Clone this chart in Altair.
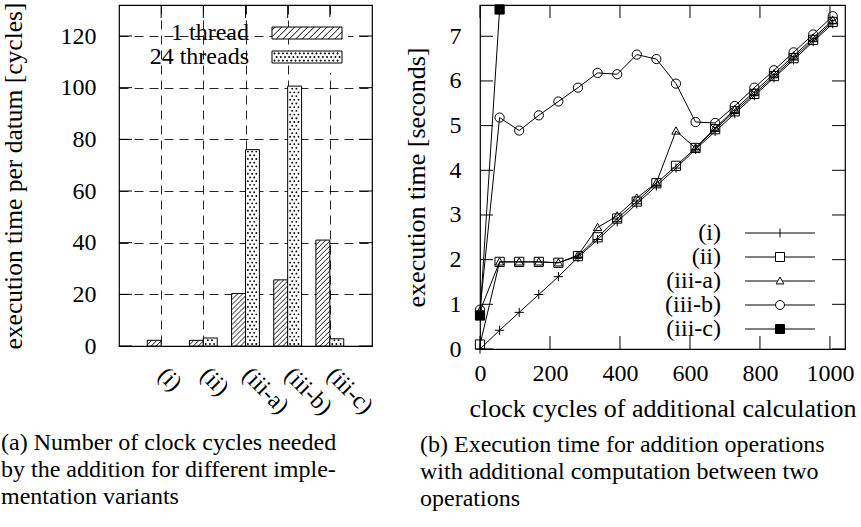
import altair as alt
import pandas as pd

# ---------------- data: panel (a) ----------------
categories = ["(i)", "(ii)", "(iii-a)", "(iii-b)", "(iii-c)"]
positions = [1, 2, 3, 4, 5]
one_thread = [2.2, 2.2, 20.3, 25.6, 41.0]
threads_24 = [0.0, 3.1, 76.0, 100.6, 2.8]
bar_series = ["1 thread", "24 threads"]
left_y_ticks = [0, 20, 40, 60, 80, 100, 120]

# ---------------- data: panel (b) ----------------
cycles = [0, 56, 112, 168, 224, 280, 336, 392, 448, 504, 560, 616, 672, 728, 784, 840, 896, 952, 1008]
time_i = [0.0, 0.42, 0.82, 1.22, 1.62, 2.05, 2.45, 2.85, 3.25, 3.65, 4.05, 4.47, 4.87, 5.27, 5.67, 6.07, 6.47, 6.88, 7.28]
time_ii = [0.1, 1.95, 1.95, 1.95, 1.93, 2.08, 2.5, 2.92, 3.3, 3.71, 4.1, 4.5, 4.92, 5.32, 5.71, 6.11, 6.51, 6.92, 7.32]
time_iii_a = [0.85, 1.95, 1.95, 1.95, 1.93, 2.1, 2.72, 2.98, 3.38, 3.72, 4.88, 4.5, 4.95, 5.36, 5.76, 6.16, 6.56, 6.96, 7.36]
time_iii_b = [0.88, 5.18, 4.89, 5.23, 5.54, 5.85, 6.18, 6.15, 6.59, 6.49, 5.94, 5.08, 5.06, 5.44, 5.85, 6.24, 6.64, 7.04, 7.45]
cycles_iii_c = [0, 56]
time_iii_c = [0.75, 7.6]
line_series = ["(i)", "(ii)", "(iii-a)", "(iii-b)", "(iii-c)"]
right_x_ticks = [0, 200, 400, 600, 800, 1000]
right_y_ticks = [0, 1, 2, 3, 4, 5, 6, 7]

caption_a = ["(a) Number of clock cycles needed",
             "by the addition for different imple-",
             "mentation variants"]
caption_b = ["(b) Execution time for addition operations",
             "with additional computation between two",
             "operations"]

# ---------------- style / layout ----------------
FONT = "Liberation Serif"
W1, H1 = 253, 341
W2, H2 = 365, 344
X1 = [0, 6]
Y1 = [0, 132]
X2 = [0, 1043]
Y2 = [0, 7.7]
TICK = 13
BW = 0.33
px_x1 = W1 / (X1[1] - X1[0])
px_y1 = H1 / (Y1[1] - Y1[0])
K = BW * px_x1 / px_y1          # 45 degree hatch rise across a bar
HSTEP = 5.0 / px_y1            # hatch spacing
DY = 3.7 / px_y1               # dot row spacing


def f(v):
    return f"{v:.4f}".rstrip("0").rstrip(".") if abs(v) > 1e-9 else "0"


# legend swatch paths: symbolSize 484 -> 11 px per path unit
SYM = 484
U = 11.0
HW = 35 / U     # half width of swatch (70 px)
hh = 6 / U      # half height of bar swatch (12 px)


def hatch_path():
    parts = [f"M{f(-HW)},{f(-hh)}H{f(HW)}V{f(hh)}H{f(-HW)}Z"]
    step = 6.5 / U
    run = 2 * hh
    x0 = -HW - run + step / 2
    while x0 < HW:
        xa, ya = x0, hh
        xb, yb = x0 + run, -hh
        if xa < -HW:
            ya = hh - (-HW - xa)
            xa = -HW
        if xb > HW:
            yb = -hh + (xb - HW)
            xb = HW
        if xb - xa > 1e-3:
            parts.append(f"M{f(xa)},{f(ya)}L{f(xb)},{f(yb)}")
        x0 += step
    return "".join(parts)


def dots_path():
    parts = [f"M{f(-HW)},{f(-hh)}H{f(HW)}V{f(hh)}H{f(-HW)}Z"]
    d = 0.5 / U
    for ri, ry in enumerate([-3.6, 0.0, 3.6]):
        cx = -32.5 + (ri % 2) * 2.1
        while cx < 33:
            x, y = cx / U, ry / U
            parts.append(f"M{f(x - d)},{f(y - d)}h{f(2 * d)}v{f(2 * d)}h{f(-2 * d)}Z")
            cx += 4.2
    return "".join(parts)


left_shape_expr = f"datum.value === '{bar_series[0]}' ? '{hatch_path()}' : '{dots_path()}'"

m = 4.5 / U
mt = 3.9 / U
L = HW
leg_paths = {
    "(i)": f"M{f(-L)},0H{f(L)}M0,{f(-m)}V{f(m)}",
    "(ii)": f"M{f(-L)},0H{f(-m)}M{f(m)},0H{f(L)}M{f(-m)},{f(-m)}H{f(m)}V{f(m)}H{f(-m)}Z",
    "(iii-a)": f"M{f(-L)},0H{f(-0.57 * mt)}M{f(0.57 * mt)},0H{f(L)}M0,{f(-mt)}L{f(mt)},{f(0.75 * mt)}L{f(-mt)},{f(0.75 * mt)}Z",
    "(iii-b)": f"M{f(-L)},0H{f(-m)}M{f(m)},0H{f(L)}M{f(m)},0A{f(m)},{f(m)} 0 1,1 {f(-m)},0A{f(m)},{f(m)} 0 1,1 {f(m)},0Z",
    "(iii-c)": f"M{f(-L)},0H{f(L)}M{f(-m)},{f(-m)}H{f(m)}V{f(m)}H{f(-m)}Z",
}
right_shape_expr = ""
for s in line_series[:-1]:
    right_shape_expr += f"datum.value === '{s}' ? '{leg_paths[s]}' : "
right_shape_expr += f"'{leg_paths[line_series[-1]]}'"

open_marker_paths = [
    "M-1,0H1M0,-1V1",
    "M-1,-1H1V1H-1Z",
    "M0,-0.9L0.9,0.68L-0.9,0.68Z",
    "M1,0A1,1 0 1,1 -1,0A1,1 0 1,1 1,0Z",
]
filled_marker_path = "M-1,-1H1V1H-1Z"
legend_fill = ["white", "white", "white", "white", "black"]

# ---------------- tables ----------------
bars = pd.DataFrame({
    "category": categories * 2,
    "pos": positions * 2,
    "threads": [bar_series[0]] * 5 + [bar_series[1]] * 5,
    "value": one_thread + threads_24,
})
lt_y = pd.DataFrame({"t": left_y_ticks})
lt_x = pd.DataFrame({"p": positions})

lines = pd.DataFrame({
    "variant": ["(i)"] * len(cycles) + ["(ii)"] * len(cycles) + ["(iii-a)"] * len(cycles)
    + ["(iii-b)"] * len(cycles) + ["(iii-c)"] * len(cycles_iii_c),
    "x": cycles * 4 + cycles_iii_c,
    "y": time_i + time_ii + time_iii_a + time_iii_b + time_iii_c,
})
rt_x = pd.DataFrame({"t": right_x_ticks})
rt_y = pd.DataFrame({"t": right_y_ticks})

# ---------------- panel (a) ----------------
xs1 = alt.Scale(domain=X1, nice=False, zero=False)
ys1 = alt.Scale(domain=Y1, nice=False, zero=False)
label_expr = "[" + ",".join(f"'{c}'" for c in categories) + "][datum.value - 1]"

ax_x1 = alt.Axis(
    values=positions, labelExpr=label_expr, labelAngle=45, labelAlign="left",
    labelBaseline="middle", labelPadding=25, grid=True, gridDash=[9, 6],
    gridColor="black", gridOpacity=0.85, ticks=False, domain=False, title=None,
    labelFlush=False, labelOverlap=False)
ax_y1 = alt.Axis(
    values=left_y_ticks, grid=True, gridDash=[9, 6], gridColor="black",
    gridOpacity=0.85, ticks=False, domain=False, labelPadding=23,
    title="execution time per datum [cycles]", titlePadding=34, titleFontSize=25.5)

base_a = alt.Chart(bars).transform_calculate(
    x0=f"datum.threads === '{bar_series[0]}' ? datum.pos - {BW} : datum.pos",
    x1=f"datum.threads === '{bar_series[0]}' ? datum.pos : datum.pos + {BW}",
    zero="0",
)

bar_layer = base_a.transform_filter("datum.value > 0").mark_rect(
    stroke="black", strokeWidth=1
).encode(
    x=alt.X("x0:Q", scale=xs1, axis=ax_x1),
    x2="x1:Q",
    y=alt.Y("value:Q", scale=ys1, axis=ax_y1),
    y2="zero:Q",
    fill=alt.Fill("threads:N", scale=alt.Scale(domain=bar_series, range=["white", "white"]),
                  legend=alt.Legend(
                      orient="none", legendX=172, legendY=12, title=None,
                      labelFontSize=24, labelAlign="right", labelOffset={"expr": "-70"},
                      symbolSize=SYM, symbolStrokeColor="black", symbolStrokeWidth=1,
                      symbolType={"expr": left_shape_expr},
                      rowPadding=0, fillColor="white", padding=4)),
)

hatch_layer = base_a.transform_filter(
    f"datum.threads === '{bar_series[0]}' && datum.value > 0"
).transform_calculate(
    s=f"sequence({-K}, datum.value, {HSTEP})"
).transform_flatten(["s"]).transform_calculate(
    ya="max(datum.s, 0)",
    yb=f"min(datum.s + {K}, datum.value)",
).transform_filter("datum.yb > datum.ya + 0.02").transform_calculate(
    xa=f"datum.x0 + (datum.ya - datum.s) / {K} * {BW}",
    xb=f"datum.x0 + (datum.yb - datum.s) / {K} * {BW}",
).mark_rule(color="black", strokeWidth=0.9).encode(
    x=alt.X("xa:Q", scale=xs1, axis=ax_x1),
    x2="xb:Q",
    y=alt.Y("ya:Q", scale=ys1, axis=ax_y1),
    y2="yb:Q",
)

dot_layer = base_a.transform_filter(
    f"datum.threads === '{bar_series[1]}' && datum.value > 0"
).transform_calculate(
    r=f"sequence(0, ceil(datum.value / {DY}))"
).transform_flatten(["r"]).transform_calculate(
    yd=f"(datum.r + 0.55) * {DY}"
).transform_filter(f"datum.yd < datum.value - {1.0 / px_y1}").transform_calculate(
    c="[0, 1, 2, 3]"
).transform_flatten(["c"]).transform_calculate(
    xd=f"datum.x0 + (2.4 + 4.2 * datum.c + 2.1 * (datum.r % 2)) / {px_x1}"
).transform_filter(f"datum.xd < datum.x1 - {1.2 / px_x1}").mark_circle(
    color="black", size=3.5, opacity=1
).encode(
    x=alt.X("xd:Q", scale=xs1, axis=ax_x1),
    y=alt.Y("yd:Q", scale=ys1, axis=ax_y1),
)

tick_l = alt.Chart(lt_y).mark_rule(color="black", strokeWidth=1).encode(
    y=alt.Y("t:Q", scale=ys1, axis=ax_y1), x=alt.value(0), x2=alt.value(TICK))
tick_r = alt.Chart(lt_y).mark_rule(color="black", strokeWidth=1).encode(
    y=alt.Y("t:Q", scale=ys1, axis=ax_y1), x=alt.value(W1 - TICK), x2=alt.value(W1))
tick_t = alt.Chart(lt_x).mark_rule(color="black", strokeWidth=1).encode(
    x=alt.X("p:Q", scale=xs1, axis=ax_x1), y=alt.value(0), y2=alt.value(TICK))

panel_a = alt.layer(bar_layer, hatch_layer, dot_layer, tick_l, tick_r, tick_t).properties(
    width=W1, height=H1,
    title=alt.TitleParams(text=caption_a, orient="bottom", anchor="start", frame="bounds",
                          fontSize=24, lineHeight=27, offset=12, dx=0),
)

# ---------------- panel (b) ----------------
xs2 = alt.Scale(domain=X2, nice=False, zero=False)
ys2 = alt.Scale(domain=Y2, nice=False, zero=False)
ax_x2 = alt.Axis(
    values=right_x_ticks, ticks=False, domain=False, grid=False, labelPadding=12,
    labelFlush=False, labelOverlap=False, format="d",
    title="clock cycles of additional calculation", titlePadding=10)
ax_y2 = alt.Axis(
    values=right_y_ticks, ticks=False, domain=False, grid=False, labelPadding=19,
    format="d", title="execution time [seconds]", titlePadding=20)

line_layer = alt.Chart(lines).mark_line(color="black", strokeWidth=1).encode(
    x=alt.X("x:Q", scale=xs2, axis=ax_x2),
    y=alt.Y("y:Q", scale=ys2, axis=ax_y2),
    detail="variant:N",
)

open_points = alt.Chart(lines).transform_filter(
    f"datum.variant !== '{line_series[-1]}'"
).mark_point(
    filled=False, fill="transparent", stroke="black", strokeWidth=1, size=85, opacity=1
).encode(
    x=alt.X("x:Q", scale=xs2, axis=ax_x2),
    y=alt.Y("y:Q", scale=ys2, axis=ax_y2),
    shape=alt.Shape("variant:N", scale=alt.Scale(range=open_marker_paths), legend=None),
)

filled_points = alt.Chart(lines).transform_filter(
    f"datum.variant === '{line_series[-1]}'"
).mark_point(
    filled=True, fill="black", stroke="black", strokeWidth=1, size=85, opacity=1,
    shape=filled_marker_path,
).encode(
    x=alt.X("x:Q", scale=xs2, axis=ax_x2),
    y=alt.Y("y:Q", scale=ys2, axis=ax_y2),
)

# legend-only layer (no marks drawn): fill legend with line+marker swatches
legend_layer = alt.Chart(lines).transform_filter("false").mark_rect(
    stroke="black", strokeWidth=1
).encode(
    x=alt.X("x:Q", scale=xs2, axis=ax_x2),
    x2="x:Q",
    y=alt.Y("y:Q", scale=ys2, axis=ax_y2),
    y2="y:Q",
    fill=alt.Fill("variant:N", scale=alt.Scale(domain=line_series, range=legend_fill),
                  legend=alt.Legend(
                      orient="none", legendX=288, legendY=216, title=None,
                      labelFontSize=24, labelAlign="right", labelOffset={"expr": "-71"},
                      symbolSize=SYM, symbolStrokeColor="black", symbolStrokeWidth=1,
                      symbolType={"expr": right_shape_expr},
                      rowPadding=-0.5, padding=0)),
)

rtick_l = alt.Chart(rt_y).mark_rule(color="black", strokeWidth=1).encode(
    y=alt.Y("t:Q", scale=ys2, axis=ax_y2), x=alt.value(0), x2=alt.value(TICK))
rtick_r = alt.Chart(rt_y).mark_rule(color="black", strokeWidth=1).encode(
    y=alt.Y("t:Q", scale=ys2, axis=ax_y2), x=alt.value(W2 - TICK), x2=alt.value(W2))
rtick_b = alt.Chart(rt_x).mark_rule(color="black", strokeWidth=1).encode(
    x=alt.X("t:Q", scale=xs2, axis=ax_x2), y=alt.value(H2 - TICK), y2=alt.value(H2))
rtick_t = alt.Chart(rt_x).mark_rule(color="black", strokeWidth=1).encode(
    x=alt.X("t:Q", scale=xs2, axis=ax_x2), y=alt.value(0), y2=alt.value(TICK))

panel_b = alt.layer(line_layer, open_points, filled_points, legend_layer,
                    rtick_l, rtick_r, rtick_b, rtick_t).properties(
    width=W2, height=H2,
    title=alt.TitleParams(text=caption_b, orient="bottom", anchor="start", frame="bounds",
                          fontSize=24, lineHeight=27, offset=12, dx=17),
)

chart = alt.hconcat(panel_a, panel_b, spacing=24).resolve_scale(
    fill="independent", shape="independent",
).resolve_legend(
    fill="independent", shape="independent",
).configure(
    padding={"left": 0, "top": 1, "right": 0, "bottom": 0}, font=FONT,
).configure_view(
    stroke="black", strokeWidth=1.2,
).configure_axis(
    labelFont=FONT, titleFont=FONT, labelColor="black", titleColor="black",
    titleFontWeight="normal", labelFontSize=24, titleFontSize=26,
).configure_legend(
    labelFont=FONT, labelColor="black",
).configure_title(
    font=FONT, color="black", fontWeight="normal", fontSize=24,
)

chart.save("out.html", embed_options={"renderer": "svg", "actions": False})
